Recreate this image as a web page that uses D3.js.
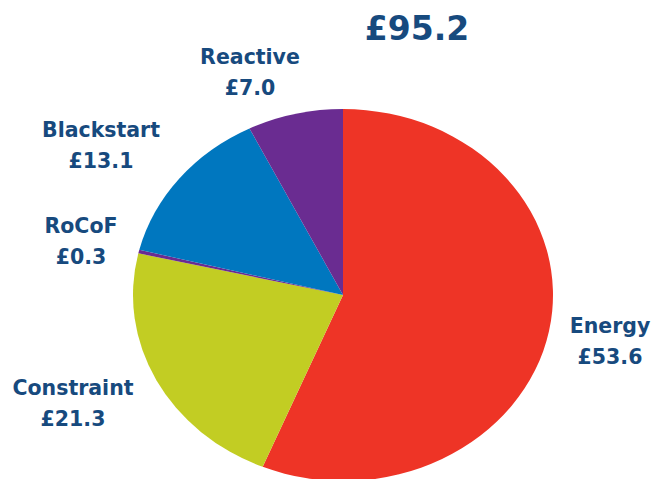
<!doctype html>
<html lang="en">
<head>
	<meta charset="utf-8">
	<title>Costs</title>
	<script src="https://d3js.org/d3.v7.min.js"></script>
	<style>
		body { margin: 0; background: #fff; }
		text { font-family: "DejaVu Sans", sans-serif; font-weight: bold; fill: #174a7e; }
	</style>
</head>
<body>
	<script>
		var width = 654;
		var height = 479;

		// data
		var categories = ["Energy", "Constraint", "RoCoF", "Blackstart", "Reactive"];
		var values = [53.6, 21.3, 0.3, 13.1, 7.0];
		var total = "£95.2";

		var colors = ["#ee3426", "#c2cd23", "#6a2c91", "#0077bf", "#6a2c91"];

		// where each label sits (centre x, first baseline y)
		var labelPos = {
			"Energy": [610, 333],
			"Constraint": [73, 395],
			"RoCoF": [81, 233],
			"Blackstart": [101, 137],
			"Reactive": [250, 64]
		};

		var svg = d3.select("body").append("svg")
			.attr("width", width)
			.attr("height", height);

		var cx = 343, cy = 295, rx = 210, ry = 186;

		var pie = d3.pie().sort(null).value(function(d) { return d.value; });
		var arc = d3.arc().innerRadius(0).outerRadius(rx);

		var data = categories.map(function(c, i) { return { name: c, value: values[i], color: colors[i] }; });

		// pie squashed a little vertically, like the original
		var g = svg.append("g")
			.attr("transform", "translate(" + cx + "," + cy + ") scale(1," + (ry / rx) + ")");

		g.selectAll("path")
			.data(pie(data))
			.enter()
			.append("path")
			.attr("d", arc)
			.style("fill", function(d) { return d.data.color; });

		// labels
		var labels = svg.selectAll("g.lab")
			.data(data)
			.enter()
			.append("g")
			.attr("class", "lab")
			.attr("transform", function(d) { return "translate(" + labelPos[d.name][0] + "," + labelPos[d.name][1] + ")"; });

		labels.append("text")
			.attr("text-anchor", "middle")
			.style("font-size", "20.5px")
			.text(function(d) { return d.name; });

		labels.append("text")
			.attr("text-anchor", "middle")
			.attr("y", 31)
			.style("font-size", "20.5px")
			.text(function(d) { return "£" + d.value.toFixed(1); });

		// total
		svg.append("text")
			.attr("x", 417)
			.attr("y", 40)
			.attr("text-anchor", "middle")
			.style("font-size", "33px")
			.text(total);
	</script>
</body>
</html>
